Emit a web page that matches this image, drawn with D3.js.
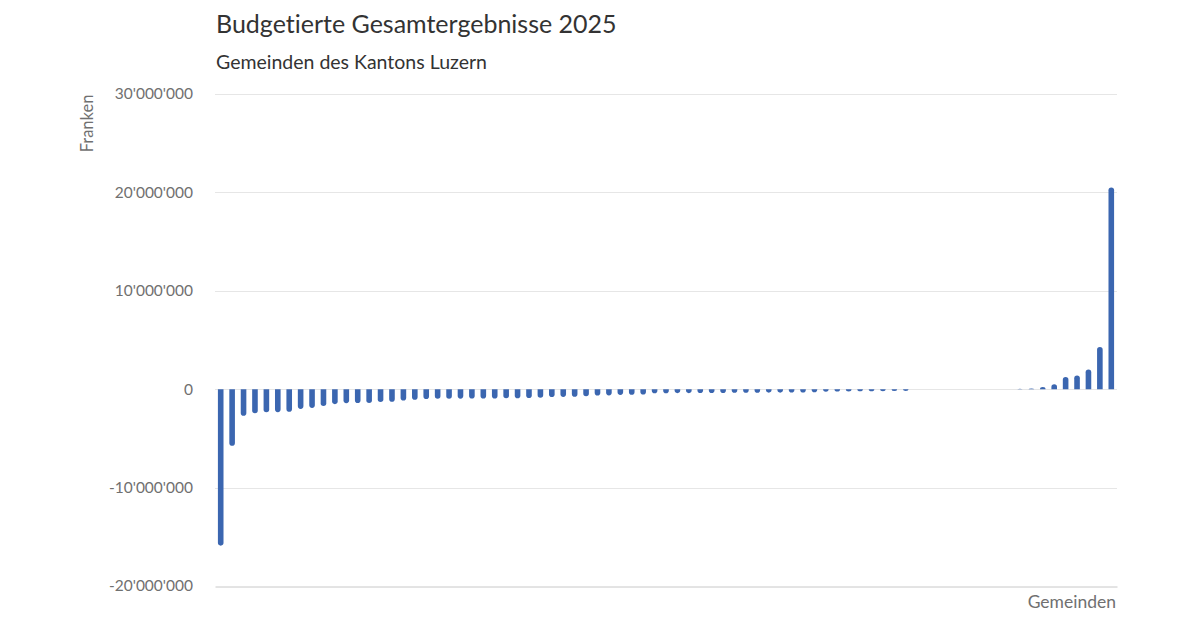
<!DOCTYPE html>
<html>
<head>
<meta charset="utf-8">
<script src="https://cdn.jsdelivr.net/npm/d3@7"></script>
<style>
  html, body { margin: 0; padding: 0; background: #ffffff; }
  svg { display: block; font-family: Lato, "Open Sans", sans-serif; font-variant-ligatures: none; }
</style>
</head>
<body>
<svg id="chart" width="1200" height="630"></svg>
<script>
// Budgeted total results 2025 per municipality (CHF), sorted ascending
const resultsMillions = [
  -15.9, -5.75, -2.7, -2.45, -2.35, -2.33, -2.3, -2.0, -1.9, -1.7,
  -1.52, -1.42, -1.41, -1.4, -1.3, -1.28, -1.15, -1.08, -1.0, -0.98,
  -0.97, -0.96, -0.95, -0.95, -0.94, -0.93, -0.92, -0.9, -0.88, -0.8,
  -0.78, -0.76, -0.72, -0.65, -0.63, -0.58, -0.57, -0.55, -0.42, -0.41,
  -0.4, -0.4, -0.39, -0.38, -0.38, -0.37, -0.36, -0.36, -0.35, -0.35,
  -0.34, -0.33, -0.32, -0.25, -0.24, -0.23, -0.22, -0.21, -0.2, -0.19,
  -0.18, 0, 0, 0, 0, 0, 0, 0, 0, 0,
  0.05, 0.06, 0.22, 0.5, 1.25, 1.4, 2.0, 4.3, 20.5
];
const values = resultsMillions.map(v => v * 1e6);
const categories = values.map((v, i) => "Gemeinde " + (i + 1));
const yTicks = [-20000000, -10000000, 0, 10000000, 20000000, 30000000];
const titleText = "Budgetierte Gesamtergebnisse 2025";
const subtitleText = "Gemeinden des Kantons Luzern";
const yAxisTitle = "Franken";
const xAxisTitle = "Gemeinden";

(function () {
const svg = d3.select("#chart");
const pLeft = 215, pRight = 1117, pTop = 94, pBottom = 586;

const x = d3.scaleBand().domain(categories).range([pLeft, pRight]).padding(0);
const y = d3.scaleLinear().domain([-20000000, 30000000]).range([pBottom, pTop]);

const locale = d3.formatLocale({decimal: ".", thousands: "'", grouping: [3], currency: ["", ""], minus: "-"});
const fmt = locale.format(",d");

// gridlines
svg.append("g").selectAll("line").data(yTicks.filter(t => t !== -20000000)).join("line")
  .attr("x1", pLeft).attr("x2", pRight)
  .attr("y1", d => Math.round(y(d)) + 0.5).attr("y2", d => Math.round(y(d)) + 0.5)
  .attr("stroke", "#e6e6e6").attr("stroke-width", 1);

// x axis line (bottom)
const xAxis = d3.axisBottom(x).tickSize(0).tickFormat("");
const gx = svg.append("g").attr("transform", `translate(0,${pBottom + 0.5})`).call(xAxis);
gx.select(".domain").attr("stroke", "#c8c8c8");

// y axis labels
const yAxis = d3.axisLeft(y).tickValues(yTicks).tickSize(0).tickPadding(0).tickFormat(fmt);
const gy = svg.append("g").attr("transform", `translate(193,0)`).call(yAxis);
gy.select(".domain").remove();
gy.selectAll("text").attr("fill", "#707070").attr("font-size", 15.5).attr("font-family", "Lato, sans-serif");

// bars with rounded value end
const bw = 5.6, r = bw / 2;
function barPath(d, i) {
  const cx = x(categories[i]) + x.bandwidth() / 2;
  const y0 = y(0), y1 = y(d);
  const len = Math.abs(y1 - y0);
  if (len < 0.01) return "";
  const dir = y1 > y0 ? 1 : -1;
  const rr = Math.min(r, len);
  const xl = cx - bw / 2, xr = cx + bw / 2;
  const yc = y1 - dir * rr;
  return `M${xl},${y0} L${xl},${yc} A${r},${rr} 0 0 ${dir > 0 ? 0 : 1} ${xr},${yc} L${xr},${y0} Z`;
}
svg.append("g").selectAll("path").data(values).join("path")
  .attr("d", (d, i) => barPath(d, i))
  .attr("fill", "#3b66b0");

// titles
svg.append("text").attr("x", 216).attr("y", 33).text(titleText)
  .attr("font-size", 25).attr("fill", "#333333");
svg.append("text").attr("x", 216).attr("y", 69).text(subtitleText)
  .attr("font-size", 19.5).attr("fill", "#333333");

// axis titles
svg.append("text")
  .attr("transform", "translate(93,123.5) rotate(-90)")
  .attr("text-anchor", "middle")
  .attr("font-size", 16.5).attr("fill", "#707070")
  .text(yAxisTitle);
svg.append("text")
  .attr("x", 1116).attr("y", 608).attr("text-anchor", "end")
  .attr("font-size", 17.5).attr("fill", "#707070")
  .text(xAxisTitle);
})();
</script>
</body>
</html>
